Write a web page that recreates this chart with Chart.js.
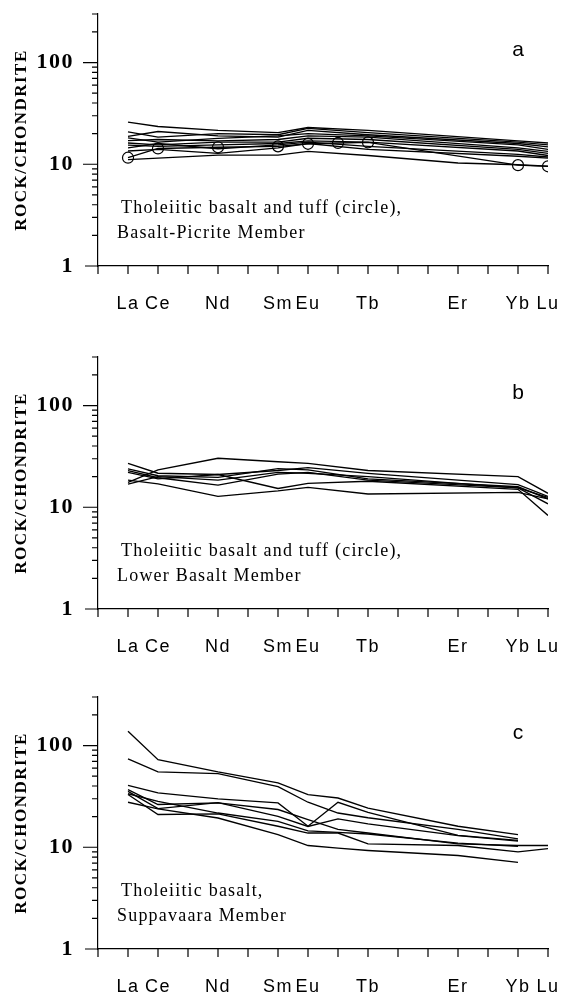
<!DOCTYPE html>
<html>
<head>
<meta charset="utf-8">
<script src="https://cdn.jsdelivr.net/npm/chart.js@4.4.1/dist/chart.umd.min.js"></script>
<style>
  body { margin: 0; background: #fff; width: 570px; height: 998px; position: relative; overflow: hidden; }
  .panel { position: absolute; left: 0; width: 570px; height: 311px; }
</style>
</head>
<body>
<div class="panel" style="top:4px"><canvas id="chart-a" width="570" height="311"></canvas></div>
<div class="panel" style="top:347px"><canvas id="chart-b" width="570" height="311"></canvas></div>
<div class="panel" style="top:687px"><canvas id="chart-c" width="570" height="311"></canvas></div>
<script>
// columns: element and its place on the x axis
const ree = ['La', 'Ce', 'Nd', 'Sm', 'Eu', 'Gd', 'Tb', 'Er', 'Yb', 'Lu'];
const reePos = [1, 2, 4, 6, 7, 8, 9, 12, 14, 15];
const xTickLabels = ['La', 'Ce', 'Nd', 'Sm', 'Eu', 'Tb', 'Er', 'Yb', 'Lu'];
const xTickPos = [1, 2, 4, 6, 7, 9, 12, 14, 15];
const yTickLabels = [1, 10, 100];
const yTickMarks = [2, 3, 4, 5, 6, 7, 8, 9, 10, 20, 30, 40, 50, 60, 70, 80, 90, 100, 200, 300];

// a - Basalt-Picrite Member (rock/chondrite)
const aLines = [
    [26, 23.5, 21.5, 20.5, 23, null, 21.5, null, 17, 16.2],
    [20.8, 18.5, 20, 19.5, 22.5, null, 20.5, null, 16.5, 15.5],
    [18.8, 21, 19, 18.5, 21.5, null, 19.5, null, 16, 14.8],
    [18.2, 16.5, 18, 19, 20, null, 19, null, 15.5, 14],
    [17.1, 17.5, 17, 17.5, 19, null, 18.5, null, 14.5, 13.4],
    [16.2, 15.5, 16.5, 16.5, 18, null, 17.5, null, 14, 12.8],
    [15.4, 15, 15.5, 16, 17, null, 16.5, null, 13.5, 12.2],
    [14.5, 16, 14.2, 15.5, 16.5, null, 15, null, 12.5, 11.8],
    [13.5, 14, 12.8, 14.5, 16, null, 14, null, 12, 11.5],
    [11.1, 11.5, 12.3, 12.3, 13.4, null, 12.2, 10.3, 9.9, 9.6]
];
const aTuff = [11.6, 14.3, 14.7, 15.0, 15.9, 16.2, 16.4, null, 9.8, 9.55];

// b - Lower Basalt Member
const bLines = [
    [17.6, 23.3, 30.3, 28, 27, null, 23, null, 20, 13.7],
    [27, 21.6, 21, 23, 24.5, null, 21.5, null, 16.7, 12.8],
    [23.8, 20.4, 19.7, 24, 23.3, null, 19, null, 15.9, 12.1],
    [22.9, 19.5, 16.5, 21.2, 22, null, 18.5, null, 15.5, 10.8],
    [22, 19, 21, 15.3, 17.2, null, 18, null, 15, 8.3],
    [18.5, 17, 12.8, 14.5, 15.7, null, 13.5, null, 14, 12.1],
    [16.9, 20, 18.5, 22, 21.6, null, 20, null, 15.5, 12.5]
];

// c - Suppavaara Member
const cLines = [
    [138, 72.6, 55, 43, 32.9, 30.5, 24.3, 16.1, 13.3, null],
    [73.8, 55, 53, 39.5, 27.7, 21.7, 19.5, 15, 12.1, null],
    [40.6, 34.2, 29.9, 27.3, 16.1, 27.7, 22, 13.1, 11.7, null],
    [36.8, 26.3, 27.3, 23.5, 18.7, 15, 13.8, 10.8, 10.4, 10.4],
    [35.5, 24, 27.5, 20.1, 16, 19, 17, 13, 11.5, null],
    [33.6, 28.2, 21.7, 18, 14.5, 14, 13.5, 11, 10.2, null],
    [33, 21, 21.3, 16.1, 13.8, 13.8, 10.8, 10.4, 9.0, 9.7],
    [27.7, 23.8, 19.4, 13.3, 10.4, 9.8, 9.3, 8.3, 7.1, null]
];

function toPoints(values) {
    const pts = [];
    values.forEach((v, i) => {
        if (v !== null) pts.push({ x: reePos[i], y: v });
    });
    return pts;
}

function lineSet(values) {
    return {
        data: toPoints(values),
        borderColor: '#000',
        borderWidth: 1.35,
        pointRadius: 0,
        tension: 0
    };
}

// no extra room for the tick labels, the chart area is fixed by hand
function noPad(s) {
    s.paddingTop = 0;
    s.paddingBottom = 0;
    s.paddingLeft = 0;
    s.paddingRight = 0;
}

// ticks, axis stub, note and panel letter
const frame = {
    id: 'frame',
    beforeDraw(chart) {
        chart.ctx.letterSpacing = '1.5px';
    },
    afterDraw(chart, args, opts) {
        const ctx = chart.ctx;
        const xs = chart.scales.x, ys = chart.scales.y;
        const left = chart.chartArea.left, bottom = chart.chartArea.bottom;
        ctx.save();
        ctx.strokeStyle = '#000';
        ctx.lineWidth = 1.2;
        ctx.beginPath();
        ctx.moveTo(left - 13, bottom);
        ctx.lineTo(left, bottom);
        for (let n = 0; n <= 15; n++) {
            const px = xs.getPixelForValue(n);
            ctx.moveTo(px, bottom);
            ctx.lineTo(px, bottom + 8);
        }
        yTickMarks.forEach(v => {
            const py = ys.getPixelForValue(v);
            const len = (v === 10 || v === 100) ? 15 : 6;
            ctx.moveTo(left - len, py);
            ctx.lineTo(left, py);
        });
        ctx.stroke();

        ctx.fillStyle = '#000';
        ctx.textBaseline = 'middle';
        ctx.textAlign = 'left';
        ctx.letterSpacing = '1.2px';
        ctx.font = "18px 'Liberation Serif'";
        ctx.fillText(opts.note[0], 121, 204);
        ctx.fillText(opts.note[1], 117, 229);

        ctx.letterSpacing = '0px';
        ctx.textAlign = 'center';
        ctx.font = "21px 'Liberation Sans'";
        ctx.fillText(opts.letter, xs.getPixelForValue(14), 46);
        ctx.restore();
    }
};

function makePanel(id, lines, tuff, letter, note) {
    const datasets = lines.map(lineSet);
    if (tuff) {
        datasets.push({
            data: toPoints(tuff),
            borderColor: '#000',
            borderWidth: 1.35,
            pointRadius: 5.5,
            pointBorderWidth: 1.2,
            pointBorderColor: '#000',
            pointBackgroundColor: 'rgba(0,0,0,0)',
            tension: 0
        });
    }
    new Chart(document.getElementById(id), {
        type: 'line',
        data: { datasets },
        options: {
            responsive: false,
            animation: false,
            layout: { padding: { left: 0, top: 10, right: 22, bottom: 0 } },
            plugins: {
                legend: { display: false },
                tooltip: { enabled: false },
                frame: { letter, note }
            },
            scales: {
                x: {
                    type: 'linear',
                    min: 0,
                    max: 15,
                    afterFit: s => { s.height = 49; noPad(s); },
                    afterBuildTicks: s => { s.ticks = xTickPos.map(v => ({ value: v })); },
                    grid: { display: false, drawTicks: false },
                    border: { display: true, color: '#000', width: 1.2 },
                    ticks: {
                        autoSkip: false,
                        maxRotation: 0,
                        padding: 27,
                        color: '#000',
                        font: { family: "'Liberation Sans'", size: 18 },
                        callback: v => xTickLabels[xTickPos.indexOf(v)] || ''
                    }
                },
                y: {
                    type: 'logarithmic',
                    min: 1,
                    max: 300,
                    afterFit: s => { s.width = 98; noPad(s); },
                    afterBuildTicks: s => { s.ticks = yTickLabels.map(v => ({ value: v })); },
                    grid: { display: false, drawTicks: false },
                    border: { display: true, color: '#000', width: 1.2 },
                    ticks: {
                        autoSkip: false,
                        padding: 24,
                        color: '#000',
                        font: { family: "'Liberation Serif'", size: 22, weight: 'bold' },
                        callback: v => String(v)
                    },
                    title: {
                        display: true,
                        text: 'ROCK/CHONDRITE',
                        color: '#000',
                        padding: { top: 11, bottom: 0 },
                        font: { family: "'Liberation Serif'", size: 17, weight: 'bold' }
                    }
                }
            }
        },
        plugins: [frame]
    });
}

makePanel('chart-a', aLines, aTuff, 'a', ['Tholeiitic basalt and tuff (circle),', 'Basalt-Picrite Member']);
makePanel('chart-b', bLines, null, 'b', ['Tholeiitic basalt and tuff (circle),', 'Lower Basalt Member']);
makePanel('chart-c', cLines, null, 'c', ['Tholeiitic basalt,', 'Suppavaara Member']);
</script>
</body>
</html>
